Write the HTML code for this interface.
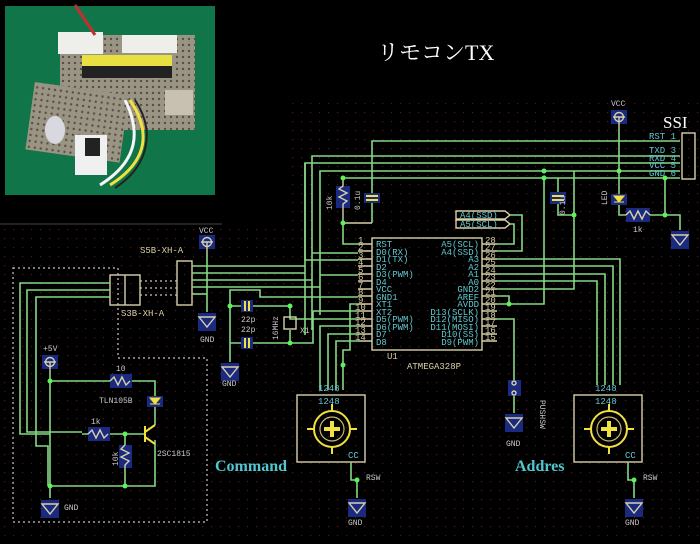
<!DOCTYPE html>
<html><head><meta charset="utf-8"><style>
html,body{margin:0;padding:0;background:#000;}
svg{display:block}
.w{stroke:#86d886;stroke-width:1.6;fill:none}
.o{stroke:#d8d0a8;stroke-width:1.4;fill:none}
.t{fill:#c8c8c8;font-family:"Liberation Mono",monospace;font-size:8px}
.c{fill:#5fc8d0;font-family:"Liberation Mono",monospace;font-size:9px}
.n{fill:#d8d0a8;font-family:"Liberation Mono",monospace;font-size:9px}
.d{fill:#5cf25c}
.b{fill:#1a2a80}
.y{stroke:#f0e040;stroke-width:2;fill:none}
</style></head><body>
<svg width="700" height="544" viewBox="0 0 700 544" xmlns="http://www.w3.org/2000/svg">
<defs>
<pattern id="g" width="9" height="9" patternUnits="userSpaceOnUse"><rect x="4" y="4" width="1.2" height="1.2" fill="#5a1616"/></pattern>
<pattern id="perf" width="6" height="6" patternUnits="userSpaceOnUse"><rect width="6" height="6" fill="#9a9484"/><circle cx="3" cy="3" r="1.2" fill="#5a5040"/></pattern>
<g id="gnd"><rect x="-9" y="-2" width="18" height="18" class="b"/><path d="M-8 2 H8 L0 12 Z" class="o"/></g>
<g id="vcc"><rect x="-8" y="-8" width="16" height="14" class="b"/><circle cx="0" cy="-1" r="4.5" class="o"/><path d="M-6 -1 H6 M0 -1 V10" class="o"/></g>
</defs>
<rect width="700" height="544" fill="#000"/>
<rect x="287" y="100" width="413" height="444" fill="url(#g)"/>
<rect x="0" y="226" width="290" height="318" fill="url(#g)"/>
<line x1="0" y1="224" x2="222" y2="224" stroke="#444" stroke-width="1"/>

<!-- photo -->
<rect x="5" y="6" width="210" height="189" fill="#10764a"/>
<rect x="60" y="35" width="135" height="95" fill="url(#perf)"/>
<rect x="58" y="32" width="45" height="22" fill="#eeeeea"/>
<rect x="122" y="35" width="55" height="18" fill="#eeeeea"/>
<rect x="82" y="55" width="90" height="12" fill="#e8e040"/>
<rect x="82" y="66" width="90" height="12" fill="#222"/>
<rect x="165" y="90" width="28" height="25" fill="#c8c0b0"/>
<rect x="30" y="88" width="95" height="68" fill="url(#perf)" transform="rotate(8 75 120)"/>
<ellipse cx="55" cy="130" rx="10" ry="14" fill="#d8d8e0"/>
<rect x="75" y="135" width="32" height="40" fill="#f0f0f0"/>
<rect x="85" y="138" width="15" height="18" fill="#222"/>
<path d="M130 100 C150 130 150 160 110 185" stroke="#f0e040" stroke-width="3" fill="none"/>
<path d="M125 100 C140 130 140 160 100 185" stroke="#f6f6f6" stroke-width="3" fill="none"/>
<path d="M135 100 C155 130 150 165 115 188" stroke="#222" stroke-width="2" fill="none"/>
<path d="M75 5 L95 35" stroke="#c03030" stroke-width="3"/>

<text x="377" y="60" fill="#fff" font-family="'Liberation Serif','Noto Serif CJK SC',serif" font-size="22">リモコンTX</text>
<text x="663" y="128" fill="#fff" font-family="'Liberation Serif',serif" font-size="17">SSI</text>

<!-- top buses -->
<path class="w" d="M372 223 V141 H680 M312 330 V156 H680 M305 335 V163 H680 M320 315 V171 H680 M343 178 H680"/>
<path class="w" d="M305 163 V260 H358 M312 253 H358 M320 275 H358"/>
<rect x="336" y="186" width="14" height="22" class="b"/>
<path class="o" d="M343 178 V186 L339 189 L347 193 L339 197 L347 201 L343 204 V223 H372"/>
<path class="w" d="M343 223 V244 H358"/>
<circle cx="343" cy="178" r="2.5" class="d"/><circle cx="343" cy="223" r="2.5" class="d"/>
<rect x="364" y="193" width="16" height="10" class="b"/>
<path d="M366 196 H378 M366 200 H378" stroke="#f0e040" stroke-width="2"/>
<text class="t" transform="translate(332 210) rotate(-90)">10k</text>
<text class="t" transform="translate(360 210) rotate(-90)">0.1u</text>

<!-- chip -->
<rect x="372" y="238" width="110" height="112" class="o"/>
<g class="o">
<path d="M358 244H372M358 251H372M358 259H372M358 266H372M358 274H372M358 281H372M358 289H372M358 296H372M358 304H372M358 311H372M358 319H372M358 326H372M358 334H372M358 341H372"/>
<path d="M482 244H497M482 251H497M482 259H497M482 266H497M482 274H497M482 281H497M482 289H497M482 296H497M482 304H497M482 311H497M482 319H497M482 326H497M482 334H497M482 341H497"/>
</g>
<g class="c">
<text x="376" y="247">RST</text><text x="376" y="255">D0(RX)</text><text x="376" y="262">D1(TX)</text><text x="376" y="270">D2</text><text x="376" y="277">D3(PWM)</text><text x="376" y="285">D4</text><text x="376" y="292">VCC</text><text x="376" y="300">GND1</text><text x="376" y="307">XT1</text><text x="376" y="315">XT2</text><text x="376" y="322">D5(PWM)</text><text x="376" y="330">D6(PWM)</text><text x="376" y="337">D7</text><text x="376" y="345">D8</text>
<g text-anchor="end"><text x="479" y="247">A5(SCL)</text><text x="479" y="255">A4(SSD)</text><text x="479" y="262">A3</text><text x="479" y="270">A2</text><text x="479" y="277">A1</text><text x="479" y="285">A0</text><text x="479" y="292">GND2</text><text x="479" y="300">AREF</text><text x="479" y="307">AVDD</text><text x="479" y="315">D13(SCLK)</text><text x="479" y="322">D12(MISO)</text><text x="479" y="330">D11(MOSI)</text><text x="479" y="337">D10(SS)</text><text x="479" y="345">D9(PWM)</text></g>
</g>
<g class="n" font-size="7"><text x="358" y="243">1</text><text x="358" y="250">2</text><text x="358" y="258">3</text><text x="358" y="265">4</text><text x="358" y="273">5</text><text x="358" y="280">6</text><text x="358" y="288">7</text><text x="358" y="295">8</text><text x="358" y="303">9</text><text x="355" y="310">10</text><text x="355" y="318">11</text><text x="355" y="325">12</text><text x="355" y="333">13</text><text x="355" y="340">14</text>
<text x="485" y="243">28</text><text x="485" y="250">27</text><text x="485" y="258">26</text><text x="485" y="265">25</text><text x="485" y="273">24</text><text x="485" y="280">23</text><text x="485" y="288">22</text><text x="485" y="295">21</text><text x="485" y="303">20</text><text x="485" y="310">19</text><text x="485" y="318">18</text><text x="485" y="325">17</text><text x="485" y="333">16</text><text x="485" y="340">15</text></g>
<text class="n" x="387" y="359">U1</text><text class="n" x="407" y="369">ATMEGA328P</text>

<path class="o" d="M456 211 H505 L510 215 L505 219 H456 Z M456 220 H505 L510 224 L505 228 H456 Z"/>
<text class="c" x="460" y="218" font-size="8">A4(SSD)</text><text class="c" x="460" y="227" font-size="8">A5(SCL)</text>
<path class="w" d="M510 215 H522 V251 H497 M510 224 H514 V244 H497"/>

<path class="w" d="M497 259 H620 V385 M497 266 H613 V385 M497 274 H605 V385 M497 281 H597 V385"/>
<path class="w" d="M497 289 H574 V171 M497 304 H544 V178 M497 296 H509 V304"/>
<circle cx="509" cy="304" r="2.5" class="d"/>
<path class="w" d="M497 319 H514 V380"/>
<rect x="550" y="192" width="16" height="12" class="b"/>
<path d="M552 196 H564 M552 200 H564" stroke="#f0e040" stroke-width="2"/>
<path class="w" d="M558 178 V192 M558 204 V215 H574"/>
<circle cx="544" cy="178" r="2.5" class="d"/><circle cx="544" cy="171" r="2.5" class="d"/><circle cx="574" cy="215" r="2.5" class="d"/>
<text class="t" transform="translate(565 215) rotate(-90)">0.1u</text>
<use href="#vcc" x="619" y="118"/>
<text class="t" x="611" y="106">VCC</text>
<path class="w" d="M619 128 V171"/>
<circle cx="619" cy="171" r="2.5" class="d"/>
<path class="w" d="M619 171 V195"/>
<rect x="611" y="194" width="16" height="11" class="b"/>
<path d="M614 196 H624 L619 202 Z M614 202 H624" stroke="#f0e040" fill="#f0e040" stroke-width="1"/>
<text class="t" transform="translate(607 205) rotate(-90)">LED</text>
<path class="w" d="M619 205 V215 H626"/>
<rect x="626" y="208" width="24" height="14" class="b"/>
<path class="o" d="M626 215 L630 211 L634 219 L638 211 L642 219 L646 211 L650 215"/>
<path class="w" d="M650 215 H665 V178 M665 215 H680 V230"/>
<circle cx="665" cy="178" r="2.5" class="d"/><circle cx="665" cy="215" r="2.5" class="d"/>
<text class="t" x="633" y="232">1k</text>
<use href="#gnd" x="680" y="233"/>
<rect x="682" y="133" width="13" height="46" class="o"/>
<g class="c" font-size="8"><text x="649" y="139">RST 1</text><text x="649" y="153">TXD 3</text><text x="649" y="161">RXD 4</text><text x="649" y="168">VCC 5</text><text x="649" y="176">GND 6</text></g>

<use href="#vcc" x="207" y="243"/>
<text class="t" x="199" y="233">VCC</text>
<path class="w" d="M207 253 V312"/>
<use href="#gnd" x="207" y="315"/>
<text class="t" x="200" y="342">GND</text>
<rect x="177" y="261" width="15" height="44" class="o"/>
<text class="n" x="140" y="253">S5B-XH-A</text>
<path class="w" d="M192 266 H305 M192 273 H305 M192 280 H312 M192 287 H320"/>
<path class="w" d="M192 294 H207"/>
<path d="M140 281 H177 M140 288 H177 M140 295 H177 M13 268 H118 V358 H207 V522 H13 Z" stroke="#c8c8c8" stroke-width="1.2" stroke-dasharray="2 3" fill="none"/>
<rect x="110" y="275" width="30" height="30" class="o"/><line x1="125" y1="275" x2="125" y2="305" class="o"/>
<text class="n" x="121" y="316">S3B-XH-A</text>
<path class="w" d="M110 283 H20 V434 H50 M110 290 H27 V432 H82 M110 297 H36 V446 H48 V486"/>
<use href="#vcc" x="50" y="363"/>
<text class="t" x="43" y="351">+5V</text>
<path class="w" d="M50 373 V498 M50 381 H110 M130 381 H155 V397 M155 407 V425 M82 434 H90 M110 434 H145 M125 434 V445 M125 468 V486 H155 V440 M50 486 H125"/>
<rect x="110" y="374" width="22" height="14" class="b"/>
<path class="o" d="M110 381 L114 377 L118 385 L122 377 L126 385 L130 381"/>
<text class="t" x="116" y="371">10</text>
<rect x="147" y="396" width="16" height="11" class="b"/>
<path d="M150 398 H160 L155 404 Z M150 404 H160" fill="#f0e040" stroke="#f0e040"/>
<text class="t" x="99" y="403">TLN105B</text>
<rect x="88" y="427" width="22" height="14" class="b"/>
<path class="o" d="M88 434 L92 430 L96 438 L100 430 L104 438 L108 434"/>
<text class="t" x="91" y="424">1k</text>
<rect x="119" y="445" width="13" height="23" class="b"/>
<path class="o" d="M125 445 L121 449 L129 453 L121 457 L129 461 L125 465 V468"/>
<text class="t" transform="translate(118 466) rotate(-90)">10k</text>
<path d="M145 426 V442 M145 432 L155 425 M145 437 L155 444" stroke="#f0e040" stroke-width="2" fill="none"/>
<text class="t" x="157" y="456">2SC1815</text>
<circle cx="50" cy="381" r="2.5" class="d"/><circle cx="125" cy="434" r="2.5" class="d"/><circle cx="50" cy="486" r="2.5" class="d"/><circle cx="125" cy="486" r="2.5" class="d"/>
<use href="#gnd" x="50" y="502"/>
<text class="t" x="64" y="510">GND</text>

<path class="w" d="M230 362 V290 H260 V297 H358 M230 306 H243 M251 306 H290 V319 H358 M230 343 H243 M251 343 H290 M290 306 V316 M290 330 V343 M313 311 H358 M290 343 H313 V311"/>
<rect x="241" y="300" width="12" height="12" class="b"/><path d="M245 301 V311 M249 301 V311" stroke="#f0e040" stroke-width="2"/>
<rect x="241" y="337" width="12" height="12" class="b"/><path d="M245 338 V348 M249 338 V348" stroke="#f0e040" stroke-width="2"/>
<rect x="284" y="317" width="12" height="12" class="o"/>
<circle cx="230" cy="306" r="2.5" class="d"/><circle cx="290" cy="306" r="2.5" class="d"/><circle cx="290" cy="343" r="2.5" class="d"/>
<text class="t" x="241" y="322">22p</text><text class="t" x="241" y="332">22p</text><text class="t" x="300" y="333">X1</text>
<text class="t" transform="translate(278 340) rotate(-90)">16MHz</text>
<use href="#gnd" x="230" y="365"/><text class="t" x="222" y="386">GND</text>

<path class="w" d="M358 326 H320 V390 M358 334 H328 V390 M358 341 H336 V390 M358 304 H350 V350 H343 V390"/>
<circle cx="343" cy="365" r="2.5" class="d"/>
<g>
<rect x="297" y="395" width="68" height="67" class="o"/>
<circle cx="332" cy="429" r="18" class="y"/><circle cx="332" cy="429" r="12" stroke="#c8b870" fill="none" stroke-width="1.2"/>
<path d="M332 421 V437 M324 429 H340" stroke="#f0e040" stroke-width="4"/>
<path d="M332 404 V411 M332 447 V454 M307 429 H314 M350 429 H357" class="y"/>
<text class="c" x="318" y="404" font-size="8">1248</text><text class="c" x="318" y="391" font-size="8">1248</text>
<text class="c" x="348" y="458" font-size="8">CC</text>
<path class="w" d="M351 462 V480 H357 V498"/><circle cx="357" cy="480" r="2.5" class="d"/>
<use href="#gnd" x="357" y="501"/><text class="t" x="348" y="525">GND</text>
<text class="t" x="366" y="480">RSW</text>
</g>
<g>
<rect x="574" y="395" width="68" height="67" class="o"/>
<circle cx="609" cy="429" r="18" class="y"/><circle cx="609" cy="429" r="12" stroke="#c8b870" fill="none" stroke-width="1.2"/>
<path d="M609 421 V437 M601 429 H617" stroke="#f0e040" stroke-width="4"/>
<path d="M609 404 V411 M609 447 V454 M584 429 H591 M627 429 H634" class="y"/>
<text class="c" x="595" y="404" font-size="8">1248</text><text class="c" x="595" y="391" font-size="8">1248</text>
<text class="c" x="625" y="458" font-size="8">CC</text>
<path class="w" d="M628 462 V480 H634 V498"/><circle cx="634" cy="480" r="2.5" class="d"/>
<use href="#gnd" x="634" y="501"/><text class="t" x="625" y="525">GND</text>
<text class="t" x="643" y="480">RSW</text>
</g>
<rect x="508" y="380" width="13" height="16" class="b"/>
<circle cx="514" cy="383" r="2" class="o"/><circle cx="514" cy="393" r="2" class="o"/>
<path class="w" d="M514 396 V413"/>
<use href="#gnd" x="514" y="416"/><text class="t" x="506" y="446">GND</text>
<text class="t" transform="translate(540 400) rotate(90)">PUSHSW</text>

<text x="215" y="471" fill="#4fc8d0" font-family="'Liberation Serif',serif" font-size="16" font-weight="bold">Command</text>
<text x="515" y="471" fill="#4fc8d0" font-family="'Liberation Serif',serif" font-size="16" font-weight="bold">Addres</text>
</svg>
</body></html>
